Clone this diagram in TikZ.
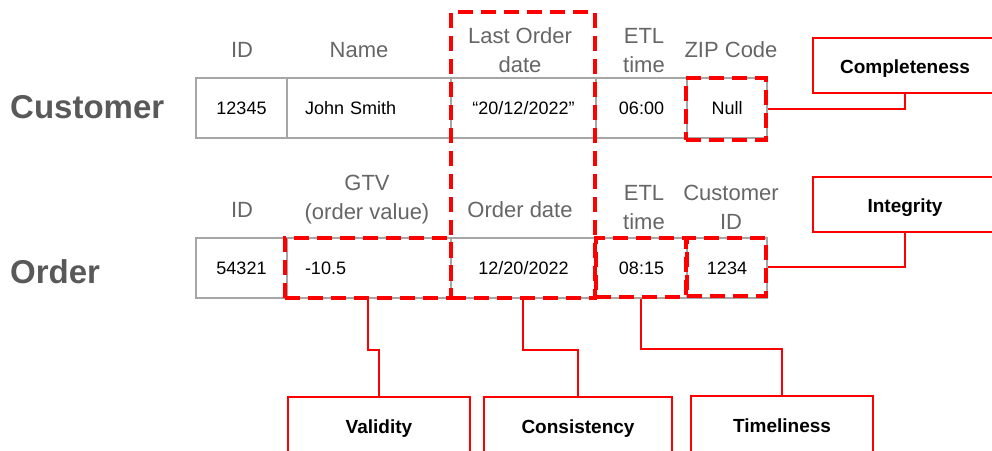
\documentclass[tikz,border=0pt]{standalone}
\usepackage{fontspec}
\setmainfont{Liberation Sans}
\usetikzlibrary{fit}
\definecolor{gridgray}{HTML}{A6A6A6}
\definecolor{headgray}{HTML}{666666}
\definecolor{labelgray}{HTML}{595959}
\definecolor{flagred}{HTML}{FF0000}
\begin{document}
\begin{tikzpicture}[x=1pt,y=-1pt,
  cell/.style={draw=gridgray, line width=1.3pt, minimum height=60pt, inner sep=0pt,
               font=\fontsize{18}{20}\selectfont},
  lcell/.style={cell, align=left, text width=#1},
  head/.style={text=headgray, align=center, font=\fontsize{22}{29}\selectfont, inner sep=0pt},
  rowlabel/.style={text=labelgray, font=\fontsize{33}{36}\selectfont\bfseries, anchor=west, inner sep=0pt},
  flag/.style={draw=flagred, line width=3.5pt, dash pattern=on 15pt off 8pt, inner sep=0pt},
  tag/.style={draw=flagred, fill=white, line width=1.5pt, inner sep=0pt,
              text height=16.5pt, text depth=0pt,
              font=\fontsize{19}{21}\selectfont\bfseries},
  link/.style={draw=flagred, line width=1.5pt}]
\useasboundingbox[fill=white] (0,0) rectangle (992,450);

% row titles
\node[rowlabel] (custlabel) at (10,107) {Customer};
\node[rowlabel] (ordlabel) at (10,272) {Order};

% Customer table
\node[head] (hc1) at (242,50) {ID};
\node[head] (hc2) at (359,50) {Name};
\node[head] (hc3) at (520,50.5) {Last Order\\date};
\node[head] (hc4) at (644,50.5) {ETL\\time};
\node[head] (hc5) at (731,50) {ZIP Code};

\node[cell, minimum width=91pt] (c1) at (241.5,108) {12345};
\node[lcell=128pt, minimum width=164pt] (c2) at (369,108) {John Smith};
\node[cell, minimum width=145pt] (c3) at (523.5,108) {“20/12/2022”};
\node[cell, minimum width=91pt] (c4) at (641.5,108) {06:00};
\node[cell, minimum width=80pt] (c5) at (727,108) {Null};

% Order table
\node[head] (ho1) at (242,210) {ID};
\node[head] (ho2) at (367,200) {GTV\\(order value)};
\node[head] (ho3) at (520,210) {Order date};
\node[head] (ho4) at (644,207.5) {ETL\\time};
\node[head] (ho5) at (731,207.5) {Customer\\ID};

\node[cell, minimum width=91pt] (o1) at (241.5,268) {54321};
\node[lcell=128pt, minimum width=164pt] (o2) at (369,268) {-10.5};
\node[cell, minimum width=145pt] (o3) at (523.5,268) {12/20/2022};
\node[cell, minimum width=91pt] (o4) at (641.5,268) {08:15};
\node[cell, minimum width=80pt] (o5) at (727,268) {1234};

% flagged fields
\node[flag, fit={(451,12) (595,298)}] (lod) {};
\node[flag, fit={(686,78) (766,140)}] (nullq) {};
\node[flag, fit={(285,238) (451,298)}] (gtvq) {};
\node[flag, fit={(596,238) (686,297)}] (etlq) {};
\node[flag, fit={(687,238) (766,296)}] (cidq) {};

% data quality dimensions
\node[tag, minimum width=184pt, minimum height=55pt] (compl) at (905,65.5) {Completeness};
\node[tag, minimum width=184pt, minimum height=55pt] (integ) at (905,204.5) {Integrity};
\node[tag, minimum width=182pt, minimum height=56pt] (valid) at (379,425) {Validity};
\node[tag, minimum width=188pt, minimum height=56pt] (cons) at (578,425) {Consistency};
\node[tag, minimum width=182pt, minimum height=56pt] (timely) at (782,424) {Timeliness};

% connectors
\draw[link] (nullq.east) -| (compl.south);
\draw[link] (cidq.east) -| (integ.south);
\draw[link] (gtvq.south) -- ++(0,50) -| (valid.north);
\draw[link] (lod.south) -- ++(0,50) -| (cons.north);
\draw[link] (etlq.south) -- ++(0,50) -| (timely.north);
\end{tikzpicture}
\end{document}
